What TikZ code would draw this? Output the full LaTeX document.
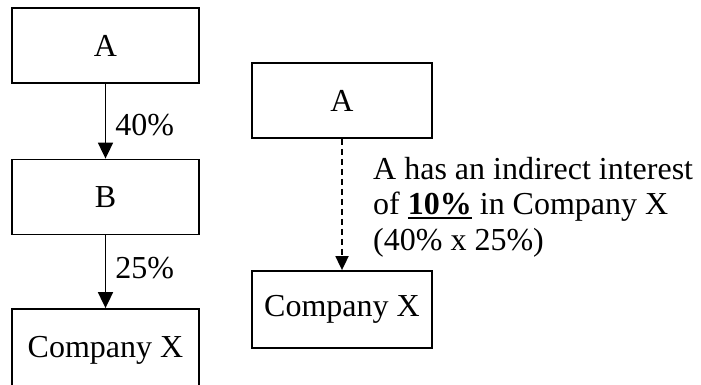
\documentclass[tikz,border=0pt]{standalone}
\usepackage{fontspec}
\setmainfont{Liberation Serif}
\usetikzlibrary{arrows.meta}
\newcommand\thickul[1]{\setbox0\hbox{#1}\rlap{\rule[-4.5pt]{\wd0}{2.6pt}}\box0\relax}
\begin{document}
\begin{tikzpicture}[x=1pt,y=-1pt,
  box/.style={draw, line width=1.8pt, minimum width=187pt, minimum height=75pt, inner sep=0pt, font=\fontsize{32}{36}\selectfont},
  rbox/.style={box, minimum width=180pt},
  link/.style={line width=1.8pt, -{Triangle[length=16pt,width=15pt]}},
  dlink/.style={line width=1.8pt, dash pattern=on 6pt off 4pt, -{Triangle[length=14pt,width=13pt]}},
  lbl/.style={font=\fontsize{32}{36}\selectfont, inner sep=0pt, anchor=west}]
\useasboundingbox (0,0) rectangle (701,385);
\node[box] (a) at (105.5,45.5) {A};
\node[box] (b) at (105.5,197) {B};
\node[box, minimum height=82pt] (x) at (105.5,350) {Company X};
\draw[link] (a) -- (b) node[lbl, pos=0.55, xshift=9pt] {40\%};
\draw[link] (b) -- (x) node[lbl, pos=0.45, xshift=9pt] {25\%};
\node[rbox] (a2) at (342,100.5) {A};
\node[rbox, minimum height=77pt] (x2) at (342,309.5) {Company X};
\draw[dlink] (a2) -- (x2);
\node[lbl, align=left, anchor=north west, font=\fontsize{32}{35.5}\selectfont] (t) at (373,157)
  {A has an indirect interest\\of \thickul{\textbf{10\%}} in Company X\\(40\% x 25\%)};
\end{tikzpicture}
\end{document}
